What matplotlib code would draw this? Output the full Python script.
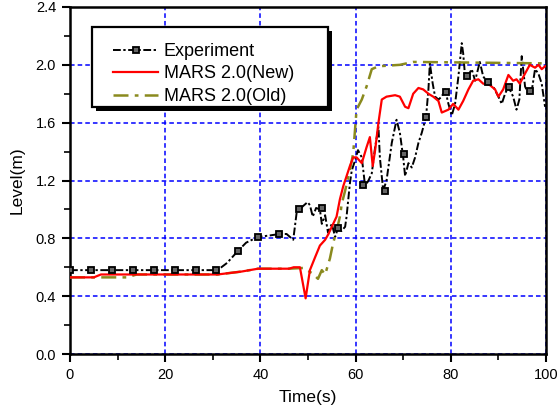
import matplotlib
matplotlib.use("Agg")
import matplotlib.pyplot as plt
from matplotlib.lines import Line2D
from matplotlib.patches import Rectangle

plt.rcParams['font.family'] = ['Liberation Sans', 'DejaVu Sans']

# ---- data ----
exp_t = [0, 31, 33, 35.2, 37, 39.5, 42, 44, 45.5, 46.2, 46.9, 47.7, 48.2, 49.2, 49.9, 50.4,
         51, 51.7, 52.5, 52.9, 53.6, 54.2, 55, 55.7, 56.4, 57, 57.8, 58.1, 58.8, 59.2, 59.9,
         60.5, 61.3, 62, 62.7, 63.4, 64.1, 64.8, 65.1, 65.8, 66.5, 67.6, 68.6, 69.3, 70,
         70.4, 71.1, 71.8, 72.5, 73.2, 73.9, 74.8, 75.3, 75.6, 76.2, 76.7, 77.4, 78.1, 78.8,
         79.5, 80.2, 80.9, 81.6, 82.3, 82.6, 83, 83.7, 84.4, 85.1, 86.1, 86.8, 87.9, 88.9,
         90, 90.7, 91.4, 92.1, 93.1, 93.8, 94.4, 94.9, 95.6, 96.3, 97, 97.7, 98.4, 99.1, 99.8]
exp_y = [0.58, 0.58, 0.63, 0.71, 0.77, 0.81, 0.82, 0.83, 0.83, 0.81, 0.79, 1.00, 1.00, 1.03, 1.05, 1.03,
         0.95, 1.01, 1.00, 0.90, 0.96, 0.84, 0.90, 0.81, 0.88, 0.85, 0.88, 0.95, 1.18, 1.27, 1.34,
         1.41, 1.36, 1.16, 1.20, 1.25, 1.43, 1.57, 1.36, 1.13, 1.20, 1.46, 1.62, 1.53, 1.36,
         1.23, 1.32, 1.29, 1.36, 1.46, 1.53, 1.64, 1.83, 2.01, 1.87, 1.78, 1.76, 1.78, 1.83,
         1.73, 1.65, 1.73, 1.92, 2.15, 2.08, 1.92, 1.93, 1.97, 1.89, 2.02, 1.92, 1.87, 1.85,
         1.78, 1.73, 1.80, 1.85, 1.78, 1.69, 1.76, 2.06, 1.85, 1.80, 1.82, 1.97, 1.94, 1.87, 1.71]

exp_mark_t = [0, 4.4, 8.8, 13.3, 17.7, 22.1, 26.5, 30.7, 35.2, 39.5, 43.9, 48.2, 52.9, 56.4,
              61.6, 66.2, 70.2, 74.8, 78.9, 83.5, 87.9, 92.3, 96.6]
exp_mark_y = [0.58, 0.58, 0.58, 0.58, 0.58, 0.58, 0.58, 0.58, 0.71, 0.81, 0.83, 1.00, 1.01, 0.87,
              1.17, 1.13, 1.38, 1.64, 1.81, 1.92, 1.88, 1.85, 1.82]

new_t = [0, 5, 6.5, 31, 36, 39.5, 46, 47, 48.3, 49.5, 50.4, 51.5, 52.5, 53.6, 54.3, 55, 56,
         56.7, 57.4, 58.1, 58.8, 59.5, 60.2, 61.3, 62.3, 63, 63.6, 64.1, 64.8, 65.5, 66.5,
         68.3, 69.3, 70.4, 71.1, 72.1, 73.2, 74.2, 75.3, 76.3, 77.4, 78.1, 78.8, 79.5, 80.5,
         81.6, 82.6, 83.7, 84.7, 85.8, 86.8, 88.2, 89.3, 90, 91, 92.1, 93.1, 93.8, 94.5,
         95.6, 96.6, 97.7, 98.4, 99.1, 99.8]
new_y = [0.53, 0.53, 0.55, 0.55, 0.57, 0.59, 0.59, 0.60, 0.60, 0.385, 0.58, 0.67, 0.75, 0.79, 0.83, 0.88, 0.95,
         1.07, 1.16, 1.23, 1.30, 1.36, 1.36, 1.32, 1.43, 1.50, 1.30, 1.41, 1.60, 1.76, 1.78,
         1.79, 1.78, 1.71, 1.70, 1.80, 1.84, 1.83, 1.80, 1.78, 1.75, 1.67, 1.68, 1.69, 1.73,
         1.69, 1.75, 1.83, 1.89, 1.90, 1.87, 1.86, 1.83, 1.78, 1.83, 1.93, 1.89, 1.90, 1.87,
         1.94, 2.00, 1.98, 2.00, 1.97, 1.99]

old_t = [0, 12, 14, 31, 36, 39.5, 46, 49, 50.8, 52.1, 52.9, 53.6, 54.6, 55.3, 56, 56.7, 57.1,
         57.8, 58.8, 59.5, 60.2, 61.3, 62.3, 63.4, 64.8, 69.3, 72.1, 100]
old_y = [0.53, 0.53, 0.55, 0.55, 0.57, 0.59, 0.59, 0.595, 0.56, 0.52, 0.58, 0.55, 0.66, 0.77, 0.85, 0.95, 1.04,
         1.13, 1.27, 1.39, 1.69, 1.76, 1.85, 1.97, 1.99, 2.00, 2.02, 2.01]

labels = ["Experiment", "MARS 2.0(New)", "MARS 2.0(Old)"]
x_ticks = [0, 20, 40, 60, 80, 100]
y_ticks = [0.0, 0.4, 0.8, 1.2, 1.6, 2.0, 2.4]

# ---- figure ----
W, H = 557, 412
fig = plt.figure(figsize=(W / 100, H / 100), dpi=100)
ax_l, ax_r, ax_t, ax_b = 70, 546, 7, 354
ax = fig.add_axes([ax_l / W, 1 - ax_b / H, (ax_r - ax_l) / W, (ax_b - ax_t) / H])

def px2ax(px, py):
    return (px - ax_l) / (ax_r - ax_l), (ax_b - py) / (ax_b - ax_t)

exp_ls = (0, (4, 1.3, 1.2, 1.3))
old_color = '#8a8a1e'
old_ls = (0, (6, 2.5, 1.5, 2.5))
mk = dict(marker='s', ms=4, mfc='#666666', mec='black', mew=1.3)

ax.plot(exp_t, exp_y, color='black', lw=1.4, ls=exp_ls, zorder=3)
ax.plot(exp_mark_t, exp_mark_y, ls='none', zorder=4, **mk)
ax.plot(old_t, old_y, color=old_color, lw=1.8, ls=old_ls, zorder=3)
ax.plot(new_t, new_y, color='red', lw=1.6, zorder=3)

ax.set_xlim(0, 100)
ax.set_ylim(0, 2.4)
ax.set_xticks(x_ticks)
ax.set_yticks(y_ticks)
ax.set_xticklabels([str(v) for v in x_ticks])
ax.set_yticklabels([f"{v:.1f}" for v in y_ticks])
ax.set_xticks([10, 30, 50, 70, 90], minor=True)
ax.set_yticks([0.2, 0.6, 1.0, 1.4, 1.8, 2.2], minor=True)
ax.tick_params(which='major', direction='out', length=6, width=1.5, labelsize=10.5,
               colors='black', pad=4)
ax.tick_params(which='minor', direction='out', length=4, width=1.2)

ax.grid(True, which='major', color='blue', ls=(0, (3, 2)), lw=1.1)
ax.set_axisbelow(True)
for s in ax.spines.values():
    s.set_linewidth(1.8)

ax.set_xlabel("Time(s)", fontsize=12.5, labelpad=6)
ax.set_ylabel("Level(m)", fontsize=12.5, labelpad=8)

# legend frame with solid black drop shadow
x0, y0 = px2ax(92, 107)
x1, y1 = px2ax(328, 27)
sx, sy = px2ax(96, 111)
ax.add_patch(Rectangle((sx, sy), x1 - x0, y1 - y0, transform=ax.transAxes,
                       facecolor='black', edgecolor='black', lw=0, zorder=9, clip_on=False))
ax.add_patch(Rectangle((x0, y0), x1 - x0, y1 - y0, transform=ax.transAxes,
                       facecolor='white', edgecolor='black', lw=1.6, zorder=9.5, clip_on=False))

handles = [
    Line2D([], [], color='black', lw=1.4, ls=exp_ls, markevery=[1], **mk),
    Line2D([], [], color='red', lw=1.6),
    Line2D([], [], color=old_color, lw=1.8, ls=old_ls),
]
lx, ly = px2ax(113, 43)
leg = ax.legend(handles, labels, loc='upper left', bbox_to_anchor=(lx, ly),
                borderaxespad=0, borderpad=0, fontsize=13, frameon=False,
                handlelength=2.5, handletextpad=0.3, labelspacing=0.3)
leg.set_zorder(10)

fig.savefig("out.png", dpi=100)
